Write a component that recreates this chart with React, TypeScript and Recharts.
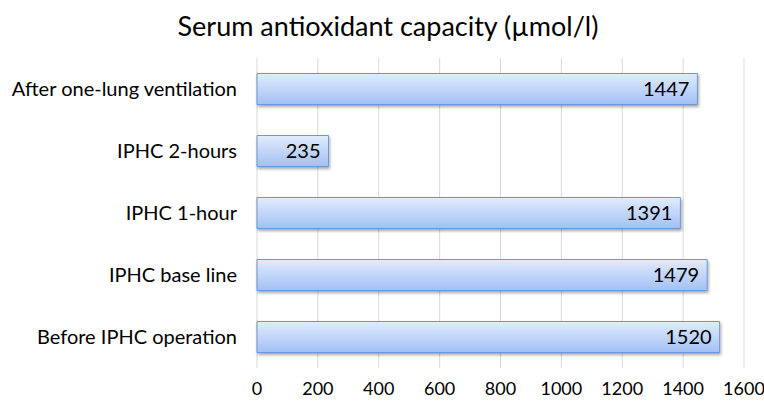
import React from 'react';
import { BarChart, Bar, XAxis, YAxis, CartesianGrid, LabelList } from 'recharts';

const stages = [
    'After one-lung ventilation',
    'IPHC 2-hours',
    'IPHC 1-hour',
    'IPHC base line',
    'Before IPHC operation',
];
const capacity = [1447, 235, 1391, 1479, 1520];
const xTicks = [0, 200, 400, 600, 800, 1000, 1200, 1400, 1600];

const data = stages.map((stage, i) => ({ stage, value: capacity[i] }));

const font = 'Lato, "Open Sans", sans-serif';

const App = () => {
    return (
        <div style={{ position: 'absolute', left: 0, top: 0, width: 764, height: 411, background: '#fff', fontFamily: font }}>
            <div
                style={{
                    position: 'absolute',
                    top: 9,
                    left: 0,
                    width: 776,
                    textAlign: 'center',
                    fontSize: 27,
                    lineHeight: '34px',
                    color: '#000',
                }}
            >
                Serum antioxidant capacity (µmol/l)
            </div>
            <BarChart
                width={764}
                height={411}
                data={data}
                layout="vertical"
                margin={{ top: 58, right: 20, left: 0, bottom: 0 }}
                barCategoryGap="25%"
            >
                <defs>
                    <linearGradient id="barFill" x1="0" y1="0" x2="0" y2="1">
                        <stop offset="0%" stopColor="#e2ecfc" />
                        <stop offset="100%" stopColor="#a2c0f4" />
                    </linearGradient>
                    <filter id="barShadow" x="-5%" y="-20%" width="110%" height="160%">
                        <feDropShadow dx="1" dy="2" stdDeviation="1.5" floodColor="#000" floodOpacity="0.35" />
                    </filter>
                </defs>
                <CartesianGrid horizontal={false} stroke="#d9d9d9" />
                <XAxis
                    type="number"
                    domain={[0, 1600]}
                    ticks={xTicks}
                    height={43}
                    axisLine={false}
                    tickLine={false}
                    tick={{ fontSize: 18, fill: '#000', fontFamily: font }}
                    tickMargin={8}
                    interval={0}
                />
                <YAxis
                    type="category"
                    dataKey="stage"
                    width={257}
                    axisLine={false}
                    tickLine={false}
                    tick={{ fontSize: 20, fill: '#000', fontFamily: font }}
                    tickMargin={14}
                />
                <Bar
                    dataKey="value"
                    fill="url(#barFill)"
                    stroke="#7097d3"
                    strokeWidth={1}
                    filter="url(#barShadow)"
                    isAnimationActive={false}
                >
                    <LabelList
                        dataKey="value"
                        position="insideRight"
                        offset={8}
                        style={{ fontSize: 20, fill: '#000', fontFamily: font }}
                    />
                </Bar>
            </BarChart>
        </div>
    );
};

export default App;
